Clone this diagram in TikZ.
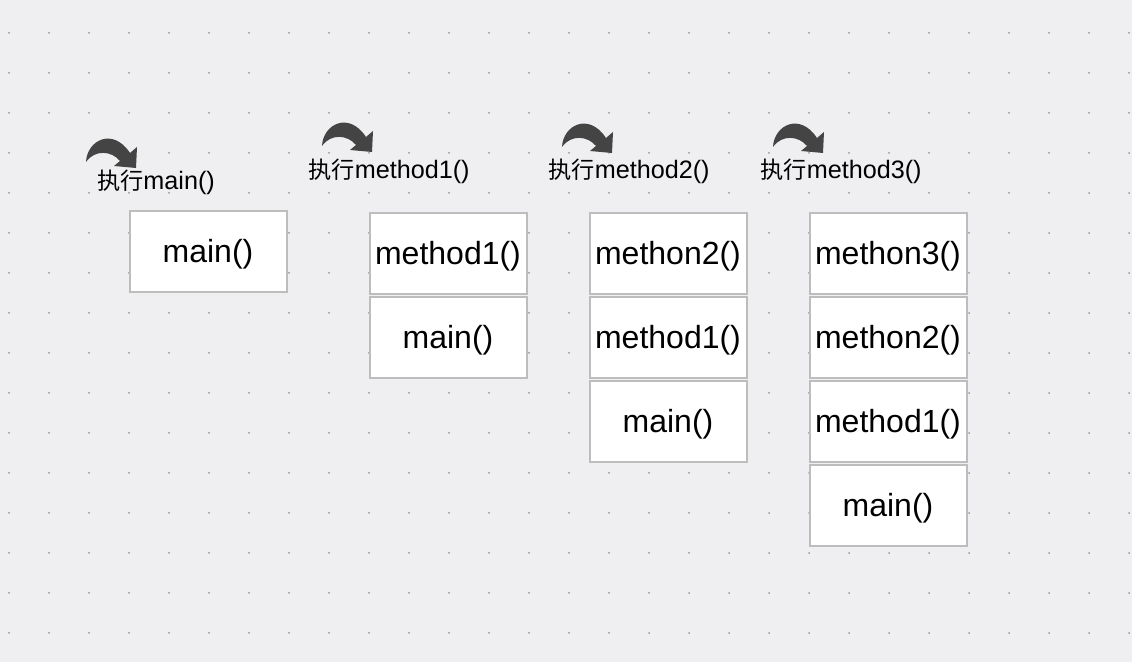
\documentclass[tikz,border=0pt]{standalone}
\usepackage{fontspec}
\setmainfont{Liberation Sans}
\newfontfamily\cjk{Noto Sans CJK SC}
\definecolor{bgcol}{HTML}{EFEFF1}
\definecolor{dotcol}{HTML}{999999}
\definecolor{boxline}{HTML}{BDBDBD}
\definecolor{arrowgray}{HTML}{444444}
\definecolor{txt}{HTML}{000000}
\tikzset{
  framebox/.style={draw=boxline, line width=1pt, fill=white, minimum width=78.5pt, minimum height=40.5pt, inner sep=0pt},
  boxtext/.style={text=txt, font=\fontsize{16}{18}\selectfont, inner sep=0pt},
  lbl/.style={inner sep=0pt, text=txt, font=\fontsize{12.6}{14}\selectfont},
  curvarrow/.pic={
    \fill[arrowgray] (0,0) .. controls (1,-22) and (27,-35) .. (44,-9) -- (51,-15) -- (50,6) -- (28,4) -- (34,-1) .. controls (26,-11) and (9,-13) .. (0,0) -- cycle;
  }
}
\newcommand{\zh}[1]{{\cjk\fontsize{11.6}{14}\selectfont #1}}
\begin{document}
\begin{tikzpicture}[x=0.5pt, y=-0.5pt]
\fill[bgcol] (0,0) rectangle (1132,662);
\useasboundingbox (0,0) rectangle (1132,662);
\foreach \i in {0,...,28} {
  \foreach \j in {0,...,15} {
    \fill[dotcol] ({9+40*\i},{33+40*\j}) circle[radius=1];
  }
}
% arrows
\pic at (86,162) {curvarrow};
\pic at (322,146) {curvarrow};
\pic at (562,147) {curvarrow};
\pic at (773,147) {curvarrow};
% labels
\node[lbl] (l1) at (156,182) {\zh{执行}main()};
\node[lbl] (l2) at (389,171) {\zh{执行}method1()};
\node[lbl] (l3) at (629,171) {\zh{执行}method2()};
\node[lbl] (l4) at (841,171) {\zh{执行}method3()};
% column 1
\node[framebox] (a1) at (208,252) {};
\node[boxtext] (ta1) at ([yshift=-1.2pt]a1.center) {main()};
% column 2
\node[framebox] (b1) at (448,254) {};
\node[framebox] (b2) at (448,338) {};
\node[boxtext] (tb1) at ([yshift=-1.2pt]b1.center) {method1()};
\node[boxtext] (tb2) at ([yshift=-1.2pt]b2.center) {main()};
% column 3
\node[framebox] (c1) at (668,254) {};
\node[framebox] (c2) at (668,338) {};
\node[framebox] (c3) at (668,422) {};
\node[boxtext] (tc1) at ([yshift=-1.2pt]c1.center) {methon2()};
\node[boxtext] (tc2) at ([yshift=-1.2pt]c2.center) {method1()};
\node[boxtext] (tc3) at ([yshift=-1.2pt]c3.center) {main()};
% column 4
\node[framebox] (d1) at (888,254) {};
\node[framebox] (d2) at (888,338) {};
\node[framebox] (d3) at (888,422) {};
\node[framebox] (d4) at (888,506) {};
\node[boxtext] (td1) at ([yshift=-1.2pt]d1.center) {methon3()};
\node[boxtext] (td2) at ([yshift=-1.2pt]d2.center) {methon2()};
\node[boxtext] (td3) at ([yshift=-1.2pt]d3.center) {method1()};
\node[boxtext] (td4) at ([yshift=-1.2pt]d4.center) {main()};
\end{tikzpicture}
\end{document}
